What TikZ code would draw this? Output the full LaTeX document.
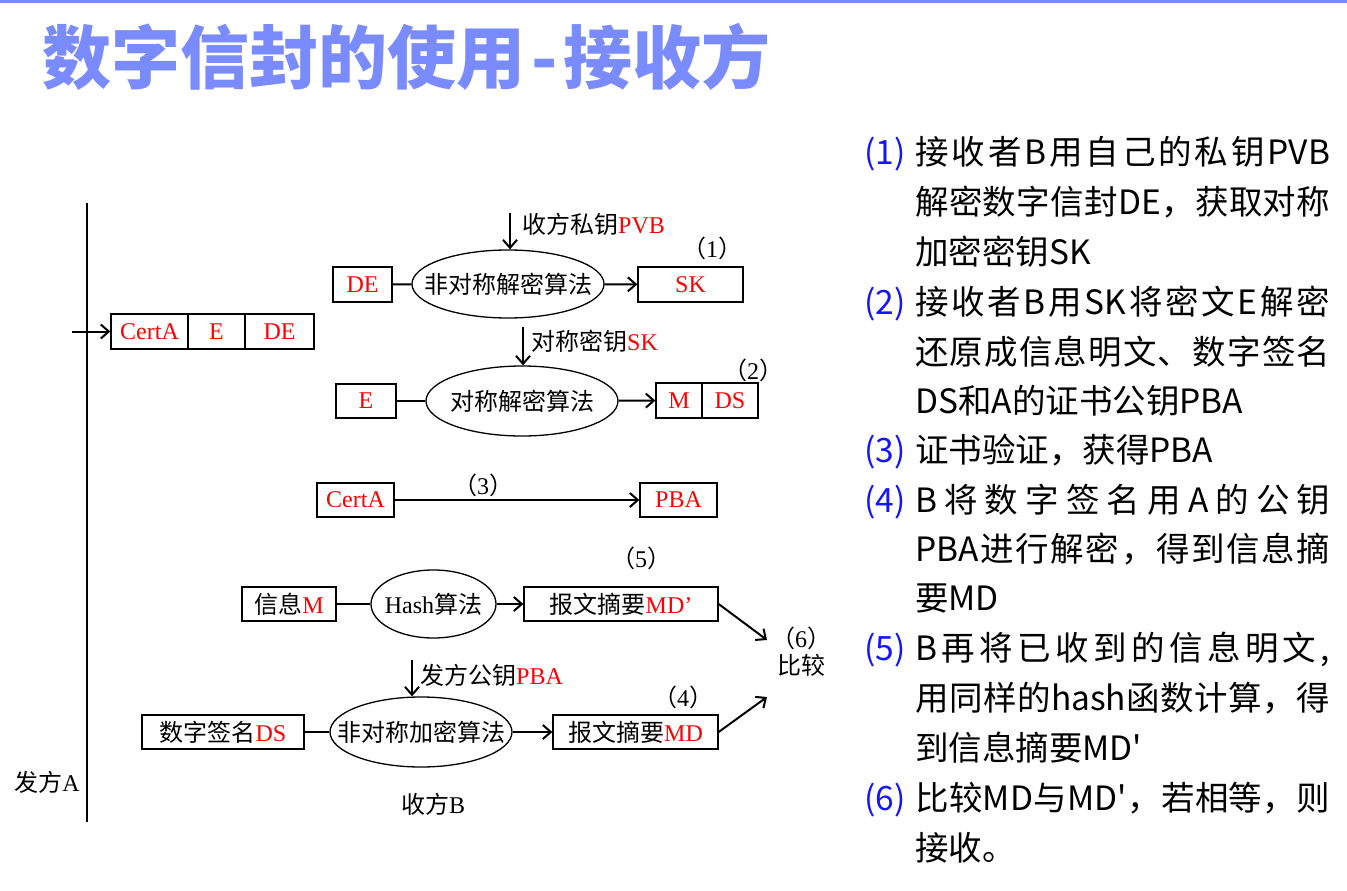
\documentclass[tikz,border=0pt]{standalone}
\usepackage{fontspec}
\setmainfont{Liberation Serif}
\newfontfamily\zhf{Noto Sans CJK SC}
\usetikzlibrary{shapes.geometric,arrows.meta}
\definecolor{titleblue}{RGB}{122,139,255}
\definecolor{numblue}{RGB}{20,20,255}
\newcommand\zh[1]{{\zhf #1}}
\newcommand\rd[1]{\textcolor{red}{#1}}
\newcommand\pnum[1]{\zh{（}#1\zh{）}}
\newcommand\df{\fontsize{24}{27}\selectfont}
\newcommand\rf{\fontsize{33.5}{38}\zhf}
\def\jloop#1{\ifx\relax#1\else#1\hfil\expandafter\jloop\fi}
\newcommand\jl[1]{\hbox to 415pt{\jloop#1\relax\unskip}}
\begin{document}
\begin{tikzpicture}[x=1pt,y=-1pt,
 box/.style={draw, line width=1.3pt, minimum height=35pt, inner sep=0pt, font=\df},
 ell/.style={draw, ellipse, line width=1.3pt, inner sep=0pt},
 arr/.style={line width=2pt, -{Straight Barb[length=8pt,width=14pt]}},
 ln/.style={line width=2pt},
 lbl/.style={font=\df, inner sep=0pt},
 rt/.style={font=\rf, anchor=base west, inner sep=0pt},
 num/.style={font=\rf, anchor=base west, inner sep=0pt, text=numblue}]
\useasboundingbox (0,0) rectangle (1347,891);
\fill[titleblue] (0,0) rectangle (1347,3);
\node[anchor=base west, inner sep=0pt, text=titleblue, font=\fontsize{69}{80}\zhf\bfseries] (title) at (42,84) {数字信封的使用\hspace{6pt}-\hspace{6pt}接收方};

% sender axis
\coordinate (vt) at (87,203);
\coordinate (vb) at (87,822);
\draw[line width=1.2pt] (vt) -- (vb);
\node[lbl] (fa) at (47,782) {\zh{发方}A};
\node[lbl] (sb) at (433,804) {\zh{收方}B};

% received envelope
\node[box, minimum width=77pt, text=red] (ca1) at (149.5,331.5) {CertA};
\node[box, minimum width=57pt, text=red] (e1) at (216.5,331.5) {E};
\node[box, minimum width=69pt, text=red] (de1) at (279.5,331.5) {DE};
\coordinate (in0) at (72,331.5);
\draw[arr] (in0) -- (ca1.west);

% step 1
\node[box, minimum width=59pt, text=red] (de2) at (362.5,284.5) {DE};
\node[ell, minimum width=192pt, minimum height=68pt] (el1) at (508,284) {};
\node[lbl] (el1t) at (el1.center) {\zh{非对称解密算法}};
\node[box, minimum width=105pt, text=red] (sk) at (690.5,284.5) {SK};
\draw[ln] (de2) -- (el1);
\draw[arr] (el1) -- (sk);
\coordinate (pvbtop) at (510,213);
\draw[arr] (pvbtop) -- (pvbtop |- el1.north);
\node[lbl, anchor=west] (pvb) at (522,224) {\zh{收方私钥}\rd{PVB}};
\node[lbl] (n1) at (712,248) {\pnum{1}};

% step 2
\coordinate (sktop) at (523,327);
\node[ell, minimum width=192pt, minimum height=70pt] (el2) at (522,401) {};
\node[lbl] (el2t) at (el2.center) {\zh{对称解密算法}};
\draw[arr] (sktop) -- (sktop |- el2.north);
\node[lbl, anchor=west] (skl) at (531,341) {\zh{对称密钥}\rd{SK}};
\node[box, minimum width=60pt, minimum height=34pt, text=red] (e2) at (366,401) {E};
\node[box, minimum width=46pt, text=red] (m) at (679,400.5) {M};
\node[box, minimum width=56pt, text=red] (ds) at (730,400.5) {DS};
\draw[ln] (e2) -- (el2);
\draw[arr] (el2) -- (m);
\node[lbl] (n2) at (753,370) {\pnum{2}};

% step 3
\node[box, minimum width=77pt, minimum height=34pt, text=red] (ca2) at (355.5,500) {CertA};
\node[box, minimum width=77pt, minimum height=34pt, text=red] (pba) at (678.5,500) {PBA};
\draw[arr] (ca2) -- (pba);
\node[lbl] (n3) at (483,485) {\pnum{3}};

% step 5
\node[box, minimum width=94pt, minimum height=34pt] (msg) at (289,604) {\zh{信息}\rd{M}};
\node[ell, minimum width=125pt, minimum height=68pt] (el3) at (433.5,604) {};
\node[lbl] (el3t) at (el3.center) {Hash\zh{算法}};
\node[box, minimum width=194pt, minimum height=34pt] (md1) at (621,604) {\zh{报文摘要}\rd{MD’}};
\draw[ln] (msg) -- (el3);
\draw[arr] (el3) -- (md1);
\node[lbl] (n5) at (641,558) {\pnum{5}};

% step 4
\coordinate (pbatop) at (412,660);
\node[ell, minimum width=182pt, minimum height=70pt] (el4) at (421,732) {};
\node[lbl] (el4t) at (el4.center) {\zh{非对称加密算法}};
\draw[arr] (pbatop) -- (pbatop |- el4.north);
\node[lbl, anchor=west] (pbal) at (420,675) {\zh{发方公钥}\rd{PBA}};
\node[box, minimum width=162pt, minimum height=34pt] (ds2) at (223,732) {\zh{数字签名}\rd{DS}};
\node[box, minimum width=165pt, minimum height=34pt] (md2) at (635.5,732) {\zh{报文摘要}\rd{MD}};
\draw[ln] (ds2) -- (el4);
\draw[arr] (el4) -- (md2);
\node[lbl] (n4) at (683,697) {\pnum{4}};

% compare
\node[lbl, align=center] (cmp) at (801,652) {\pnum{6}\\\zh{比较}};
\coordinate (c1) at (767,640);
\coordinate (c2) at (767,697);
\draw[arr] (md1.east) -- (c1);
\draw[arr] (md2.east) -- (c2);

% right-hand explanation
\node[num] (r1n) at (864,164) {(1)};
\node[rt] (r1) at (915,164) {\jl{接收者B用自己的私钥{PVB}}};
\node[rt] (r2) at (915,214) {\jl{解密数字信封{DE}，获取对称}};
\node[rt] (r3) at (915,264) {加密密钥SK};
\node[num] (r4n) at (864,314) {(2)};
\node[rt] (r4) at (915,314) {\jl{接收者B用{SK}将密文E解密}};
\node[rt] (r5) at (915,364) {\jl{还原成信息明文、数字签名}};
\node[rt] (r6) at (915,413) {DS和A的证书公钥PBA};
\node[num] (r7n) at (864,462) {(3)};
\node[rt] (r7) at (915,462) {证书验证，获得PBA};
\node[num] (r8n) at (864,512) {(4)};
\node[rt] (r8) at (915,512) {\jl{B将数字签名用A的公钥}};
\node[rt] (r9) at (915,561) {\jl{{PBA}进行解密，得到信息摘}};
\node[rt] (r10) at (915,610) {要MD};
\node[num] (r11n) at (864,660) {(5)};
\node[rt] (r11) at (915,660) {\jl{B再将已收到的信息明文,}};
\node[rt] (r12) at (915,710) {\jl{用同样的{hash}函数计算，得}};
\node[rt] (r13) at (915,760) {到信息摘要MD'};
\node[num] (r14n) at (864,810) {(6)};
\node[rt] (r14) at (915,810) {\jl{比较{MD}与{MD'}，若相等，则}};
\node[rt] (r15) at (915,860) {接收。};
\end{tikzpicture}
\end{document}
